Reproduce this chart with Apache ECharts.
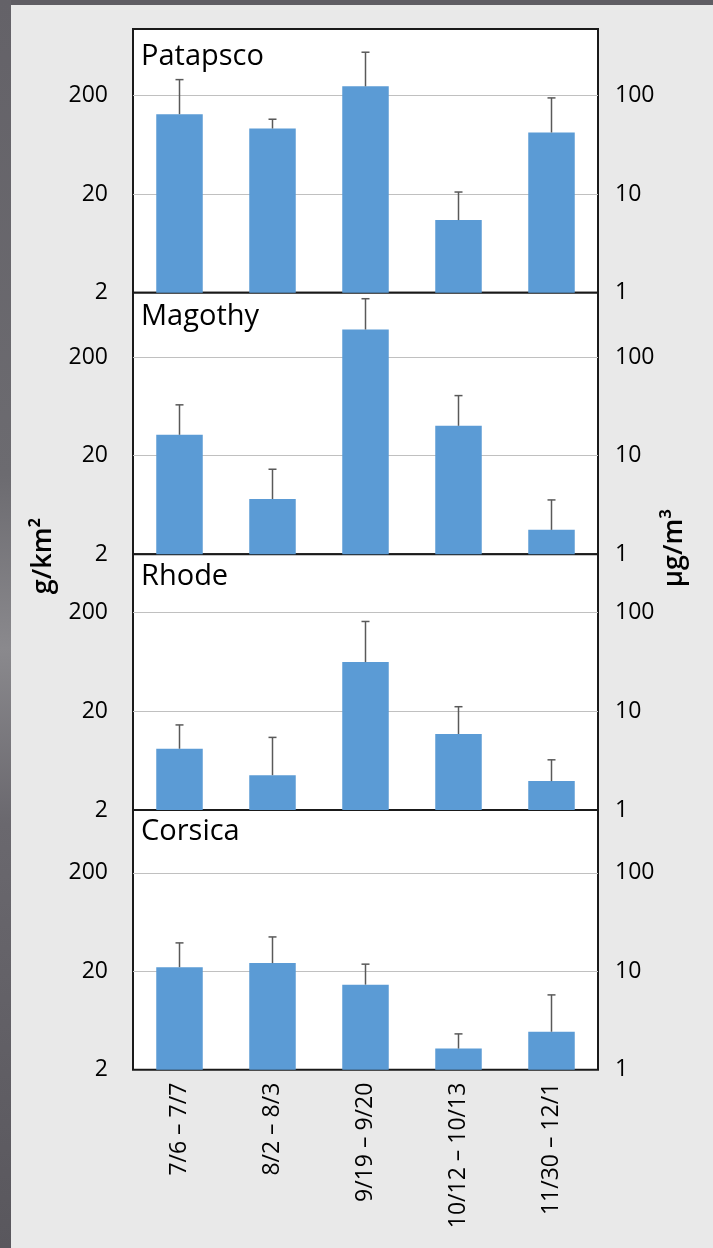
<!DOCTYPE html>
<html>
<head>
<meta charset="utf-8">
<script src="https://cdn.jsdelivr.net/npm/echarts@6/dist/echarts.min.js"></script>
<style>
  html, body { margin: 0; padding: 0; }
  body { width: 713px; height: 1248px; overflow: hidden; background: #e9e9e9; position: relative; }
  #edgeTop { position: absolute; left: 0; top: 0; width: 713px; height: 5px; background: #5f5d63; }
  #edgeLeft { position: absolute; left: 0; top: 0; width: 11px; height: 1248px;
    background: linear-gradient(to bottom, #646268 0%, #6c6b70 38%, #8a898d 52%, #6a686e 66%, #59575d 100%); }
  #chart { position: absolute; left: 0; top: 0; width: 713px; height: 1248px; }
</style>
</head>
<body>
<div id="edgeTop"></div>
<div id="edgeLeft"></div>
<div id="chart"></div>
<script>
// Sampling periods (x categories)
const categories = ['7/6 – 7/7', '8/2 – 8/3', '9/19 – 9/20', '10/12 – 10/13', '11/30 – 12/1'];
const sites = ['Patapsco', 'Magothy', 'Rhode', 'Corsica'];

// Mean concentration per period, µg/m³ (right axis), and + error
const patapscoMean = [64.7, 46.3, 124, 5.45, 42.2];
const patapscoErr  = [80.3, 11.2, 151, 5.05, 52.4];
const magothyMean  = [16.3, 3.64, 190.5, 20.1, 1.77];
const magothyErr   = [16.5, 3.65, 200.5, 20.6, 1.79];
const rhodeMean    = [4.17, 2.25, 31.4, 5.88, 1.96];
const rhodeErr     = [3.09, 3.18, 49.5, 5.22, 1.26];
const corsicaMean  = [11.0, 12.1, 7.31, 1.64, 2.43];
const corsicaErr   = [8.4, 10.2, 4.49, 0.67, 3.32];

// Tick labels for each decade: left axis in g/km², right axis in µg/m³
const leftTickLabels  = ['2', '20', '200'];
const rightTickLabels = ['1', '10', '100'];

// Upper end of each panel's log axis (µg/m³)
const axisMax = [473, 450, 387, 434];

const means = [patapscoMean, magothyMean, rhodeMean, corsicaMean];
const errs  = [patapscoErr, magothyErr, rhodeErr, corsicaErr];

// Panel layout (px)
const panelTop    = [29, 292.7, 554.3, 810];
const panelBottom = [292.7, 554.3, 810, 1069.7];
const titleTop    = [42, 302, 562, 817];
const PLOT_LEFT = 133, PLOT_WIDTH = 465;

const FONT = '"Open Sans", "Liberation Sans", sans-serif';
const BAR_COLOR = '#5b9bd5';
const ERR_COLOR = '#595959';

const decadeLabel = (labels) => (v) => {
  const k = Math.round(Math.log10(v));
  return labels[k] !== undefined ? labels[k] : '';
};

const grid = [], xAxis = [], yAxis = [], series = [], graphic = [];

sites.forEach((site, i) => {
  grid.push({
    left: PLOT_LEFT, width: PLOT_WIDTH,
    top: panelTop[i], height: panelBottom[i] - panelTop[i],
    show: true, backgroundColor: '#ffffff',
    borderColor: '#1a1a1a', borderWidth: 2
  });

  xAxis.push({
    type: 'category', gridIndex: i, data: categories,
    axisLine: { show: false }, axisTick: { show: false },
    splitLine: { show: false },
    axisLabel: i === sites.length - 1
      ? { show: true, rotate: 90, margin: 13, fontSize: 23, color: '#000', fontFamily: FONT, interval: 0 }
      : { show: false }
  });

  const common = {
    type: 'log', logBase: 10, gridIndex: i, min: 1, max: axisMax[i],
    axisLine: { show: false }, axisTick: { show: false }
  };
  yAxis.push(Object.assign({}, common, {
    position: 'left',
    splitLine: { show: true, showMinLine: false, showMaxLine: false,
                 lineStyle: { color: '#c0c0c0', width: 1 } },
    axisLabel: { showMaxLabel: false, margin: 25, fontSize: 23, color: '#000', fontFamily: FONT,
                 formatter: decadeLabel(leftTickLabels) }
  }));
  yAxis.push(Object.assign({}, common, {
    position: 'right',
    splitLine: { show: false },
    axisLabel: { showMaxLabel: false, margin: 17, fontSize: 23, color: '#000', fontFamily: FONT,
                 formatter: decadeLabel(rightTickLabels) }
  }));

  series.push({
    type: 'bar', name: site, xAxisIndex: i, yAxisIndex: 2 * i + 1,
    data: means[i], barWidth: '50%',
    itemStyle: { color: BAR_COLOR }, silent: true, z: 2
  });

  // Upper error bars with a short cap
  series.push({
    type: 'custom', xAxisIndex: i, yAxisIndex: 2 * i + 1, silent: true, z: 3,
    data: means[i].map((m, k) => [k, m, m + errs[i][k]]),
    renderItem: (params, api) => {
      const lo = api.coord([api.value(0), api.value(1)]);
      const hi = api.coord([api.value(0), api.value(2)]);
      const st = { stroke: ERR_COLOR, lineWidth: 1.5 };
      return {
        type: 'group',
        children: [
          { type: 'line', shape: { x1: lo[0], y1: lo[1], x2: hi[0], y2: hi[1] }, style: st },
          { type: 'line', shape: { x1: hi[0] - 4, y1: hi[1], x2: hi[0] + 4, y2: hi[1] }, style: st }
        ]
      };
    }
  });

  graphic.push({
    type: 'text', left: 141, top: titleTop[i], z: 10,
    style: { text: site, font: '29px ' + FONT, fill: '#000' }
  });
});

// Axis titles, rotated to read bottom-to-top
graphic.push({
  type: 'text', x: 43, y: 556, rotation: Math.PI / 2, z: 10,
  style: { text: 'g/km²', font: '600 27px ' + FONT, fill: '#000', align: 'center', verticalAlign: 'middle' }
});
graphic.push({
  type: 'text', x: 674, y: 548, rotation: Math.PI / 2, z: 10,
  style: { text: 'μg/m³', font: '600 27px ' + FONT, fill: '#000', align: 'center', verticalAlign: 'middle' }
});

const chart = echarts.init(document.getElementById('chart'), null, { renderer: 'canvas' });
chart.setOption({
  animation: false,
  backgroundColor: 'transparent',
  grid, xAxis, yAxis, series, graphic
});
</script>
</body>
</html>
